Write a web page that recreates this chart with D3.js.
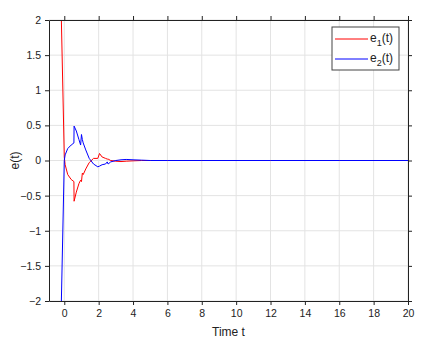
<!DOCTYPE html>
<html>
<head>
<meta charset="utf-8">
<script src="https://cdn.jsdelivr.net/npm/d3@7"></script>
<style>
  body { margin: 0; background: #fff; }
  text { font-family: "Liberation Sans", Arial, sans-serif; }
</style>
</head>
<body>
<div id="chart"></div>
<script>
// sample times
var times = [-0.17, 0.0, 0.05, 0.2, 0.4, 0.56, 0.57, 0.7, 0.85, 0.95, 1.0, 1.05, 1.1, 1.25, 1.45, 1.7, 1.95, 2.05, 2.2, 2.4, 2.5, 2.55, 2.7, 3.0, 3.3, 3.6, 4.0, 4.5, 5.0, 6.0, 8.0, 12.0, 16.0, 20.0];
var e1 = [2.0, 0.05, -0.06, -0.2, -0.27, -0.3, -0.58, -0.45, -0.33, -0.28, -0.3, -0.18, -0.2, -0.12, -0.03, 0.03, 0.03, 0.1, 0.05, 0.03, 0.02, 0.02, 0.0, -0.01, -0.015, -0.01, -0.005, 0.0, 0.0, 0.0, 0.0, 0.0, 0.0, 0.0];
var e2 = [-2.0, 0.0, 0.08, 0.17, 0.22, 0.25, 0.49, 0.42, 0.3, 0.22, 0.37, 0.3, 0.25, 0.15, 0.03, -0.05, -0.09, -0.08, -0.06, -0.05, -0.02, -0.05, -0.02, 0.0, 0.01, 0.015, 0.01, 0.005, 0.0, 0.0, 0.0, 0.0, 0.0, 0.0];
var xTicks = [0, 2, 4, 6, 8, 10, 12, 14, 16, 18, 20];
var yTicks = [-2, -1.5, -1, -0.5, 0, 0.5, 1, 1.5, 2];
var seriesNames = ["1", "2"];
var seriesColors = ["#ff0000", "#0000ff"];

var W = 448, H = 344;
var margin = { top: 20, left: 49, bottom: 43, right: 40 };
var width = W - margin.left - margin.right;
var height = H - margin.top - margin.bottom;

var svg = d3.select("#chart").append("svg")
    .attr("width", W)
    .attr("height", H)
    .append("g")
    .attr("transform", "translate(" + margin.left + "," + margin.top + ")");

var x = d3.scaleLinear().domain([-0.89, 20]).range([0, width]);
var y = d3.scaleLinear().domain([-2, 2]).range([height, 0]);

// grid
svg.append("g").selectAll("line").data(xTicks).enter().append("line")
    .attr("x1", function(d) { return x(d); }).attr("x2", function(d) { return x(d); })
    .attr("y1", 0).attr("y2", height)
    .attr("stroke", "#e3e3e3").attr("stroke-width", 1);
svg.append("g").selectAll("line").data(yTicks).enter().append("line")
    .attr("y1", function(d) { return y(d); }).attr("y2", function(d) { return y(d); })
    .attr("x1", 0).attr("x2", width)
    .attr("stroke", "#e3e3e3").attr("stroke-width", 1);

// curves
var clip = svg.append("clipPath").attr("id", "clip").append("rect")
    .attr("width", width).attr("height", height);

var line = d3.line()
    .x(function(d) { return x(d[0]); })
    .y(function(d) { return y(d[1]); });

[e1, e2].forEach(function(vals, i) {
    svg.append("path")
        .datum(times.map(function(t, j) { return [t, vals[j]]; }))
        .attr("clip-path", "url(#clip)")
        .attr("fill", "none")
        .attr("stroke", seriesColors[i])
        .attr("stroke-width", 1)
        .attr("d", line);
});

// axes (box with outward ticks)
function styleAxis(g) {
    g.select(".domain").attr("stroke", "#222");
    g.selectAll(".tick line").attr("stroke", "#222");
    g.selectAll(".tick text").attr("fill", "#222").attr("font-size", 10.5)
        .attr("font-family", "Liberation Sans, Arial, sans-serif");
}
svg.append("g")
    .attr("transform", "translate(0," + height + ")")
    .call(d3.axisBottom(x).tickValues(xTicks).tickSize(4).tickSizeOuter(0).tickPadding(5))
    .call(styleAxis);
svg.append("g")
    .call(d3.axisTop(x).tickValues(xTicks).tickSize(4).tickSizeOuter(0).tickFormat(""))
    .call(styleAxis);
svg.append("g")
    .call(d3.axisLeft(y).tickValues(yTicks).tickSize(4).tickSizeOuter(0).tickPadding(4).tickFormat(d3.format("")))
    .call(styleAxis);
svg.append("g")
    .attr("transform", "translate(" + width + ",0)")
    .call(d3.axisRight(y).tickValues(yTicks).tickSize(4).tickSizeOuter(0).tickFormat(""))
    .call(styleAxis);

// axis labels
svg.append("text")
    .attr("x", width / 2)
    .attr("y", height + 35)
    .attr("text-anchor", "middle")
    .attr("font-size", 12)
    .attr("fill", "#222")
    .text("Time t");
svg.append("text")
    .attr("transform", "translate(" + (-30) + "," + (height / 2) + ") rotate(-90)")
    .attr("text-anchor", "middle")
    .attr("font-size", 12)
    .attr("fill", "#222")
    .text("e(t)");

// legend
var legend = svg.append("g").attr("transform", "translate(" + (332 - margin.left) + "," + (27 - margin.top) + ")");
legend.append("rect")
    .attr("width", 67).attr("height", 43)
    .attr("fill", "#fff").attr("stroke", "#444").attr("stroke-width", 1);
seriesNames.forEach(function(n, i) {
    var g = legend.append("g").attr("transform", "translate(0," + (12 + i * 20) + ")");
    g.append("line").attr("x1", 3).attr("x2", 36).attr("y1", 0).attr("y2", 0)
        .attr("stroke", seriesColors[i]).attr("stroke-width", 1);
    var t = g.append("text").attr("x", 38).attr("y", 3).attr("font-size", 12).attr("fill", "#222");
    t.append("tspan").text("e");
    t.append("tspan").attr("dy", 4).attr("font-size", 9).text(n);
    t.append("tspan").attr("dy", -4).text("(t)");
});
</script>
</body>
</html>
